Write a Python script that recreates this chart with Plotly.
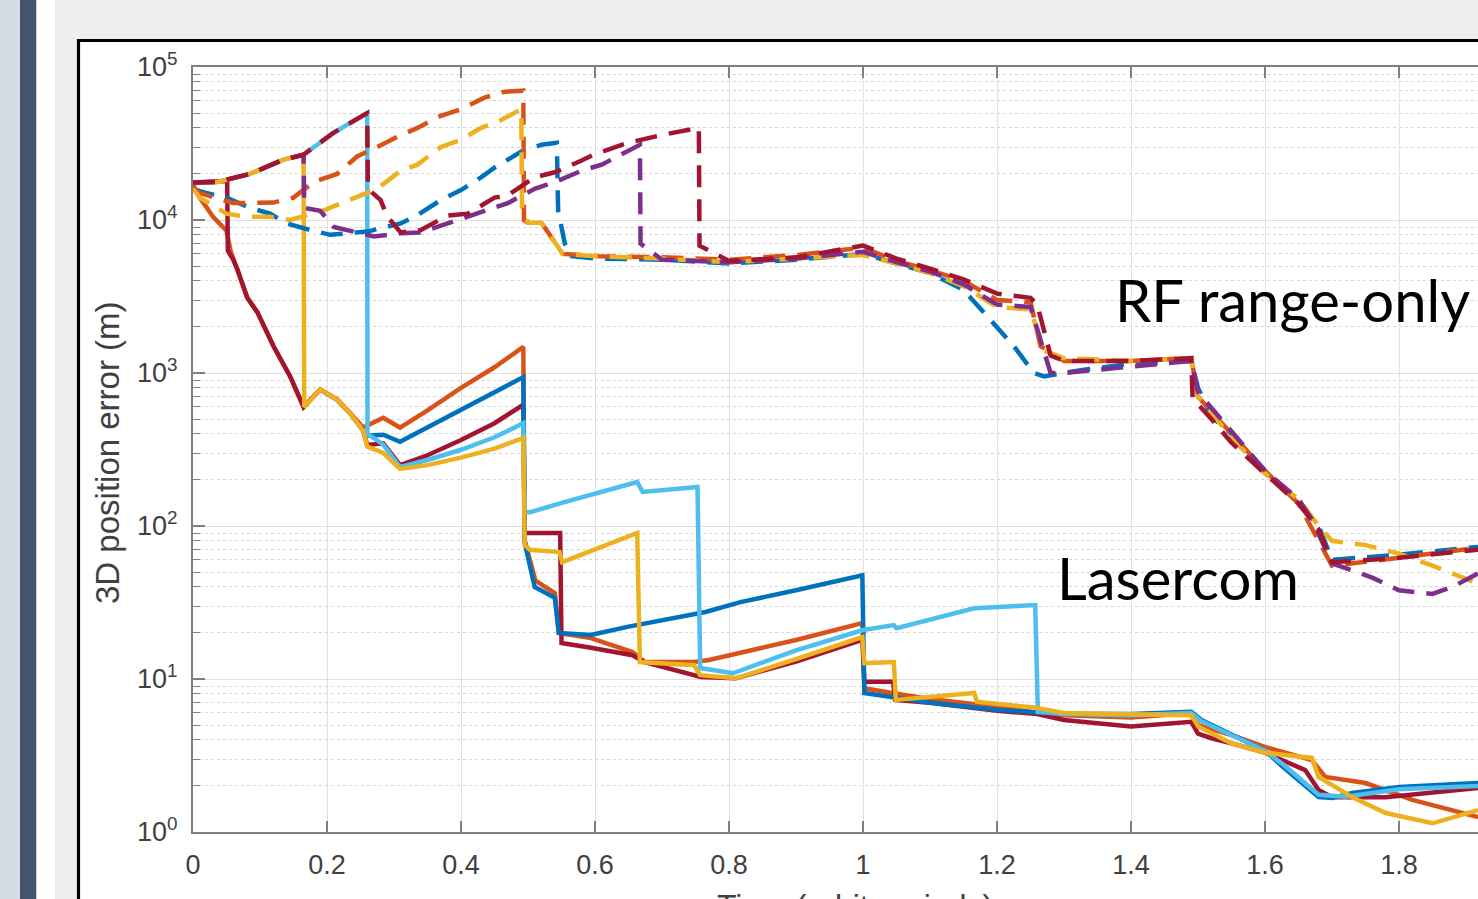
import plotly.graph_objects as go

W, H = 1478, 899

# ---------------- data (time in orbit periods, 3D position error in m) ----------------
# Lasercom (solid lines)
las_orange_x = [0, 0.01, 0.03, 0.05, 0.056, 0.066, 0.081, 0.096, 0.12, 0.145, 0.165, 0.19, 0.215, 0.234, 0.254,
                0.284, 0.309, 0.35, 0.4, 0.45, 0.493, 0.495, 0.511, 0.54, 0.546, 0.594, 0.656, 0.674, 0.748, 0.77,
                0.9, 0.999, 1.002, 1.05, 1.1, 1.2, 1.26, 1.3, 1.4, 1.49, 1.5, 1.55, 1.6, 1.67, 1.69, 1.75, 1.82, 1.918]
las_orange_y = [17000, 14000, 10500, 8500, 6300, 4800, 3100, 2500, 1500, 950, 600, 780, 670, 550, 440,
                510, 440, 570, 800, 1090, 1480, 81, 44, 36.4, 20, 18.5, 15, 12.9, 12.9, 13.3,
                18, 23.2, 8.7, 8.0, 7.4, 6.6, 6.0, 5.8, 5.6, 6.0, 5.0, 4.3, 3.6, 2.95, 2.29, 2.09, 1.62, 1.25]

las_blue_x = [0.26, 0.284, 0.309, 0.35, 0.4, 0.45, 0.493, 0.495, 0.51, 0.54, 0.546, 0.594, 0.65, 0.765, 0.817,
              0.9, 0.999, 1.002, 1.05, 1.1, 1.2, 1.26, 1.3, 1.4, 1.49, 1.505, 1.6, 1.627, 1.68, 1.7, 1.73, 1.8, 1.918]
las_blue_y = [390, 395, 355, 440, 570, 750, 940, 78, 40, 34, 20, 19.4, 22, 27.4, 31.8,
              38, 47.6, 8.1, 7.6, 7.0, 6.3, 6.0, 5.9, 5.9, 6.1, 5.4, 3.4, 2.66, 1.69, 1.67, 1.8, 1.97, 2.09]

las_darkred_x = [0, 0.051, 0.052, 0.06, 0.066, 0.081, 0.096, 0.12, 0.145, 0.165, 0.19, 0.215, 0.234, 0.254, 0.26,
                 0.284, 0.309, 0.35, 0.4, 0.45, 0.493, 0.495, 0.548, 0.55, 0.594, 0.656, 0.674, 0.758, 0.81,
                 0.9, 0.999, 1.002, 1.045, 1.048, 1.1, 1.2, 1.26, 1.3, 1.4, 1.49, 1.5, 1.52, 1.55, 1.6, 1.66,
                 1.68, 1.7, 1.78, 1.918]
las_darkred_y = [17600, 18000, 6300, 5500, 4800, 3100, 2500, 1500, 950, 600, 780, 670, 550, 420, 338,
                 347, 250, 290, 365, 470, 620, 90, 90, 17.2, 16, 14.3, 12.9, 10.3, 10.1,
                 13, 18, 9.6, 9.6, 7.3, 7.0, 6.2, 5.9, 5.4, 4.9, 5.25, 4.4, 4.1, 3.8, 3.3, 2.54,
                 1.88, 1.69, 1.69, 1.94]

las_lightblue_x = [0, 0.036, 0.085, 0.134, 0.165, 0.209, 0.26, 0.2605, 0.284, 0.309, 0.35, 0.4, 0.45, 0.493,
                   0.495, 0.503, 0.549, 0.663, 0.671, 0.753, 0.757, 0.806, 0.9, 1.0, 1.046, 1.05, 1.166, 1.257,
                   1.261, 1.3, 1.4, 1.49, 1.505, 1.6, 1.63, 1.68, 1.72, 1.8, 1.918]
las_lightblue_y = [17600, 17700, 20000, 24700, 26700, 37000, 50000, 400, 340, 243, 270, 315, 380, 470,
                   123, 123, 141, 194, 167, 180, 11.8, 10.9, 15.4, 20.9, 22.5, 21.5, 29, 30.4,
                   6.1, 5.9, 5.8, 6.0, 5.3, 3.4, 2.7, 1.75, 1.7, 1.9, 2.0]

las_yellow_x = [0, 0.036, 0.085, 0.134, 0.165, 0.166, 0.19, 0.215, 0.234, 0.254, 0.26, 0.284, 0.309, 0.35, 0.4,
                0.45, 0.493, 0.495, 0.503, 0.547, 0.551, 0.663, 0.667, 0.748, 0.757, 0.81, 0.9, 0.999, 1.002,
                1.046, 1.049, 1.166, 1.17, 1.257, 1.3, 1.4, 1.49, 1.5, 1.55, 1.6, 1.67, 1.68, 1.73, 1.78,
                1.85, 1.918]
las_yellow_y = [17600, 17700, 20000, 24700, 26700, 600, 780, 670, 550, 420, 330, 300, 236, 250, 280,
                320, 376, 75, 70, 67.5, 58, 90, 12.9, 12.3, 10.6, 10.1, 13.5, 18.8, 12.7,
                12.9, 7.3, 8.1, 7.1, 6.5, 6.0, 5.9, 5.8, 4.9, 3.8, 3.3, 3.05, 2.29, 1.69, 1.33,
                1.14, 1.39]

# RF range-only (dashed lines)
rf_orange_x = [0, 0.01, 0.06, 0.085, 0.12, 0.15, 0.18, 0.215, 0.245, 0.275, 0.305, 0.335, 0.37, 0.4, 0.435,
               0.465, 0.493, 0.494, 0.5, 0.52, 0.552, 0.607, 0.7, 0.8, 0.9, 1.0, 1.05, 1.1, 1.15, 1.2, 1.25,
               1.265, 1.3, 1.4, 1.49, 1.5, 1.55, 1.6, 1.65, 1.7, 1.8, 1.918]
rf_orange_y = [16400, 15000, 12900, 12900, 13000, 14000, 17700, 20000, 26000, 30000, 35000, 40000, 48000, 53000,
               63000, 69000, 70000, 10000, 9600, 9600, 6000, 5800, 5700, 5500, 5900, 6600, 5400, 4700, 4000, 3000,
               2900, 1500, 1200, 1200, 1250, 700, 400, 230, 140, 55, 62, 72]

rf_yellow_x = [0, 0.01, 0.05, 0.08, 0.115, 0.145, 0.194, 0.25, 0.275, 0.31, 0.335, 0.37, 0.4, 0.43, 0.46, 0.49,
               0.491, 0.5, 0.52, 0.552, 0.6, 0.7, 0.8, 0.9, 1.0, 1.05, 1.1, 1.15, 1.2, 1.25, 1.27, 1.3, 1.4,
               1.49, 1.5, 1.55, 1.6, 1.65, 1.68, 1.7, 1.75, 1.8, 1.85, 1.918]
rf_yellow_y = [16000, 14000, 11000, 10500, 10500, 10000, 11500, 14500, 16000, 21000, 23000, 30000, 33500, 40000,
               45000, 53000, 12000, 9600, 9600, 6000, 5800, 5600, 5300, 5600, 5900, 5200, 4500, 3700, 2700, 2600,
               1400, 1250, 1200, 1250, 700, 380, 220, 150, 100, 80, 75, 66, 55, 42]

rf_blue_x = [0, 0.02, 0.05, 0.085, 0.115, 0.14, 0.175, 0.205, 0.245, 0.26, 0.31, 0.334, 0.37, 0.4, 0.43, 0.45,
             0.49, 0.52, 0.543, 0.545, 0.555, 0.565, 0.6, 0.7, 0.8, 0.9, 1.0, 1.05, 1.1, 1.15, 1.195, 1.225,
             1.255, 1.27, 1.3, 1.33, 1.4, 1.49, 1.5, 1.52, 1.55, 1.6, 1.65, 1.68, 1.7, 1.8, 1.918]
rf_blue_y = [16000, 15000, 14000, 12000, 11000, 9500, 8600, 8000, 8300, 8400, 9500, 10700, 13500, 15700, 19000,
             22000, 28000, 31000, 32000, 11500, 7000, 5800, 5600, 5500, 5200, 5500, 6000, 5200, 4500, 3500, 2100,
             1500, 1000, 950, 1000, 1050, 1150, 1200, 800, 520, 400, 230, 140, 100, 60, 65, 73]

rf_purple_x = [0, 0.036, 0.085, 0.134, 0.165, 0.166, 0.19, 0.21, 0.25, 0.27, 0.31, 0.34, 0.38, 0.41, 0.45, 0.47,
               0.51, 0.54, 0.58, 0.61, 0.667, 0.668, 0.7, 0.8, 0.9, 1.0, 1.05, 1.1, 1.15, 1.2, 1.25, 1.265, 1.28,
               1.3, 1.4, 1.49, 1.5, 1.55, 1.6, 1.65, 1.67, 1.7, 1.76, 1.8, 1.85, 1.88, 1.918]
rf_purple_y = [17600, 17700, 20000, 24700, 26700, 12000, 11500, 9000, 8200, 7800, 8200, 8300, 9500, 10500,
               12000, 12900, 16000, 17700, 21000, 23000, 31000, 7000, 5500, 5300, 5600, 6200, 5300, 4600, 3800,
               2800, 2700, 1600, 1000, 1000, 1100, 1200, 750, 420, 230, 150, 110, 57, 46, 38, 36, 40, 49]

rf_darkred_x = [0, 0.036, 0.085, 0.134, 0.165, 0.209, 0.26, 0.261, 0.28, 0.29, 0.31, 0.34, 0.38, 0.41, 0.45,
                0.47, 0.51, 0.54, 0.58, 0.6, 0.65, 0.7, 0.755, 0.756, 0.8, 0.9, 1.0, 1.05, 1.1, 1.15, 1.2, 1.25,
                1.26, 1.28, 1.3, 1.4, 1.49, 1.492, 1.52, 1.55, 1.6, 1.65, 1.68, 1.7, 1.8, 1.918]
rf_darkred_y = [17600, 17700, 20000, 24700, 26700, 37000, 50000, 16000, 13500, 10500, 8300, 8600, 10700, 11000,
                14000, 14500, 19000, 20500, 24500, 27000, 32000, 36000, 40000, 6800, 5400, 5700, 6800, 5600,
                4800, 4100, 3300, 3100, 2800, 1300, 1200, 1200, 1250, 680, 500, 350, 220, 140, 95, 58, 62, 70]

x_tick_vals = [0, 0.2, 0.4, 0.6, 0.8, 1, 1.2, 1.4, 1.6, 1.8]
x_tick_text = ["0", "0.2", "0.4", "0.6", "0.8", "1", "1.2", "1.4", "1.6", "1.8"]
y_tick_vals = [1, 10, 100, 1000, 10000, 100000]
y_tick_text = ["10<sup>0</sup>", "10<sup>1</sup>", "10<sup>2</sup>", "10<sup>3</sup>", "10<sup>4</sup>",
               "10<sup>5</sup>"]

x_title = "Time (orbit periods)"
y_title = "3D position error (m)"
label_rf = "RF range-only"
label_laser = "Lasercom"

# ---------------- style ----------------
BLUE, ORANGE, YELLOW = "#0072BD", "#D95319", "#EDB120"
PURPLE, LIGHTBLUE, DARKRED = "#7E2F8E", "#4DBEEE", "#A2142F"
LW = 4.5
DASH = "22px,12px"

fig = go.Figure()

solid = [
    (las_orange_x, las_orange_y, ORANGE),
    (las_darkred_x, las_darkred_y, DARKRED),
    (las_blue_x, las_blue_y, BLUE),
    (las_lightblue_x, las_lightblue_y, LIGHTBLUE),
    (las_yellow_x, las_yellow_y, YELLOW),
]
for xs, ys, c in solid:
    fig.add_trace(go.Scatter(x=xs, y=ys, mode="lines", line=dict(color=c, width=LW),
                             showlegend=False, hoverinfo="skip"))

dashed = [
    (rf_blue_x, rf_blue_y, BLUE),
    (rf_orange_x, rf_orange_y, ORANGE),
    (rf_yellow_x, rf_yellow_y, YELLOW),
    (rf_purple_x, rf_purple_y, PURPLE),
    (rf_darkred_x, rf_darkred_y, DARKRED),
]
for xs, ys, c in dashed:
    fig.add_trace(go.Scatter(x=xs, y=ys, mode="lines", line=dict(color=c, width=LW, dash=DASH),
                             showlegend=False, hoverinfo="skip"))

# pixel geometry of the axes box
X0_PX, Y0_PX, Y5_PX = 193, 832, 67
PX_PER_UNIT = 670.0
x_max = (W - X0_PX) / PX_PER_UNIT

def px(v):
    return v / W

def py(v):
    return (H - v) / H

minor_vals = [m * 10 ** k for k in range(0, 5) for m in range(2, 10)]
AX_COL = "#808080"
TICK_FONT = dict(family="Liberation Sans, Arial, sans-serif", size=27, color="#404040")

fig.update_layout(
    width=W, height=H,
    margin=dict(l=0, r=0, t=0, b=0, pad=0),
    paper_bgcolor="#efefef",
    plot_bgcolor="white",
    xaxis=dict(
        domain=[px(X0_PX), 1.0],
        range=[0, x_max],
        automargin=False,
        tickmode="array", tickvals=x_tick_vals, ticktext=x_tick_text,
        ticks="inside", ticklen=11, tickwidth=1.5, tickcolor=AX_COL,
        showline=True, linecolor=AX_COL, linewidth=2, mirror="ticks",
        showgrid=True, gridcolor="#e2e2e2", gridwidth=1,
        zeroline=False,
        tickfont=TICK_FONT, ticklabelstandoff=8,
    ),
    yaxis=dict(
        domain=[py(Y0_PX), py(Y5_PX)],
        type="log", range=[0, 5],
        automargin=False,
        tickmode="array", tickvals=y_tick_vals, ticktext=y_tick_text,
        ticks="inside", ticklen=12, tickwidth=1.5, tickcolor=AX_COL,
        showline=True, linecolor=AX_COL, linewidth=2, mirror=False,
        showgrid=True, gridcolor="#dedede", gridwidth=1,
        zeroline=False,
        tickfont=TICK_FONT, ticklabelstandoff=8,
        minor=dict(tickmode="array", tickvals=minor_vals, ticks="inside", ticklen=7,
                   tickcolor=AX_COL, tickwidth=1.2,
                   showgrid=True, gridcolor="#d4d4d4", griddash="dot", gridwidth=1),
    ),
    shapes=[
        dict(type="rect", xref="paper", yref="paper", x0=px(0), x1=px(20), y0=-0.01, y1=1.01,
             fillcolor="#d6dce5", line=dict(width=0), layer="below"),
        dict(type="rect", xref="paper", yref="paper", x0=px(20), x1=px(36.5), y0=-0.01, y1=1.01,
             fillcolor="#44546a", line=dict(width=0), layer="below"),
        dict(type="rect", xref="paper", yref="paper", x0=px(36.5), x1=px(55), y0=-0.01, y1=1.01,
             fillcolor="#ffffff", line=dict(width=0), layer="below"),
        dict(type="rect", xref="paper", yref="paper", x0=px(78.5), x1=1.05, y0=-0.05, y1=py(40.5),
             fillcolor="#ffffff", line=dict(width=3.2, color="#000000"), layer="below"),
    ],
    annotations=[
        dict(text=label_rf, xref="paper", yref="paper", x=px(1113), y=py(299), xanchor="left",
             yanchor="middle", showarrow=False,
             font=dict(family="Lato, Carlito, sans-serif", size=58, color="#000000")),
        dict(text=label_laser, xref="paper", yref="paper", x=px(1055), y=py(577), xanchor="left",
             yanchor="middle", showarrow=False,
             font=dict(family="Lato, Carlito, sans-serif", size=58, color="#000000")),
        dict(text=y_title, xref="paper", yref="paper", x=px(107), y=py(453), xanchor="center",
             yanchor="middle", textangle=-90, showarrow=False,
             font=dict(family="Liberation Sans, Arial, sans-serif", size=33, color="#404040")),
        dict(text=x_title, xref="paper", yref="paper", x=px(855), y=py(886), xanchor="center",
             yanchor="top", showarrow=False,
             font=dict(family="Liberation Sans, Arial, sans-serif", size=32, color="#404040")),
    ],
)

fig.write_html(
    "out.html",
    post_script="document.body.style.margin='0';document.body.style.overflow='hidden';",
)
